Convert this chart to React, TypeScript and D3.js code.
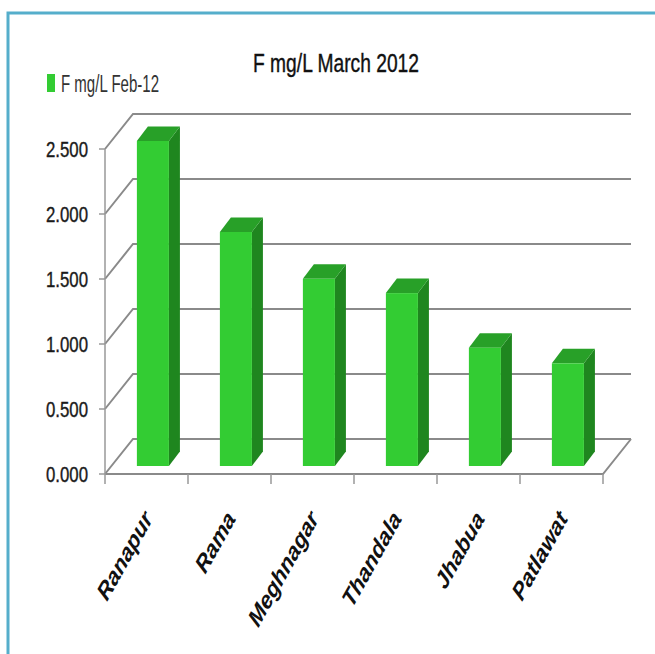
import React, { useEffect, useRef } from 'react';
import * as d3 from 'd3';

const categories = ['Ranapur', 'Rama', 'Meghnagar', 'Thandala', 'Jhabua', 'Patlawat'];
const values = [2.5, 1.8, 1.44, 1.33, 0.91, 0.79];
const yTicks = [0, 0.5, 1.0, 1.5, 2.0, 2.5];
const seriesName = 'F mg/L Feb-12';
const title = 'F mg/L March 2012';

export default function App() {
  const svgRef = useRef<SVGSVGElement | null>(null);

  function draw() {
    const svg = d3.select(svgRef.current);
    svg.selectAll('*').remove();

    const font = '"Liberation Sans", Arial, sans-serif';
    const left = 105, right = 603, base = 474;
    const depth = [28, -35]; // floor / wall depth
    const barShift = [6.4, -8]; // bar front sits a bit inside
    const barDepth = [11, -14.5];

    const x = d3.scaleBand().domain(categories).range([left, right])
      .paddingInner(0.614).paddingOuter(0.307);
    const y = d3.scaleLinear().domain([0, 2.5]).range([base, 149]);

    // frame
    svg.append('rect')
      .attr('x', 8).attr('y', 13).attr('width', 700).attr('height', 700)
      .attr('fill', 'none').attr('stroke', '#55aecb').attr('stroke-width', 3);

    // title
    svg.append('text')
      .attr('x', 253).attr('y', 72)
      .attr('textLength', 166).attr('lengthAdjust', 'spacingAndGlyphs')
      .attr('font-family', font).attr('font-size', 26).attr('fill', '#111')
      .attr('stroke', '#111').attr('stroke-width', 0.4)
      .text(title);

    // legend
    svg.append('rect')
      .attr('x', 47).attr('y', 74).attr('width', 8).attr('height', 18)
      .attr('fill', '#33cc33');
    svg.append('text')
      .attr('x', 61).attr('y', 92)
      .attr('textLength', 98).attr('lengthAdjust', 'spacingAndGlyphs')
      .attr('font-family', font).attr('font-size', 23).attr('fill', '#333')
      .text(seriesName);

    // walls and gridlines
    const grid = svg.append('g').attr('stroke', '#8a8a8a').attr('stroke-width', 2).attr('fill', 'none');
    yTicks.forEach(t => {
      const yf = y(t);
      grid.append('path')
        .attr('d', d3.line()([[left, yf], [left + depth[0], yf + depth[1]], [right + depth[0], yf + depth[1]]]));
    });
    grid.append('path')
      .attr('d', d3.line()([[left, base], [right, base], [right + depth[0], base + depth[1]]]));

    // y axis
    const axis = svg.append('g').attr('stroke', '#999').attr('stroke-width', 1.5);
    axis.append('line').attr('x1', left).attr('x2', left).attr('y1', y(2.5)).attr('y2', base);
    yTicks.forEach(t => {
      axis.append('line').attr('x1', left - 6).attr('x2', left).attr('y1', y(t)).attr('y2', y(t));
    });
    d3.range(categories.length + 1).forEach(i => {
      const xx = left + i * x.step();
      axis.append('line').attr('x1', xx).attr('x2', xx).attr('y1', base).attr('y2', base + 10);
    });

    svg.append('g').selectAll('text').data(yTicks).join('text')
      .attr('x', 46).attr('y', d => y(d) + 8)
      .attr('textLength', 42).attr('lengthAdjust', 'spacingAndGlyphs')
      .attr('font-family', font).attr('font-size', 22).attr('fill', '#1a1a1a')
      .attr('stroke', '#1a1a1a').attr('stroke-width', 0.4)
      .text(d => d3.format('.3f')(d));

    // bars
    const bars = svg.append('g').selectAll('g').data(categories).join('g');
    bars.each(function (c, i) {
      const g = d3.select(this);
      const x0 = (x(c) as number) + barShift[0];
      const x1 = x0 + x.bandwidth();
      const yTop = y(values[i]) + barShift[1];
      const yBot = y(0) + barShift[1];
      const [dx, dy] = barDepth;
      g.append('path')
        .attr('d', d3.line()([[x1, yTop], [x1 + dx, yTop + dy], [x1 + dx, yBot + dy], [x1, yBot]]) + 'Z')
        .attr('fill', '#1f861f');
      g.append('path')
        .attr('d', d3.line()([[x0, yTop], [x0 + dx, yTop + dy], [x1 + dx, yTop + dy], [x1, yTop]]) + 'Z')
        .attr('fill', '#28a028');
      g.append('rect')
        .attr('x', x0).attr('y', yTop).attr('width', x1 - x0).attr('height', yBot - yTop)
        .attr('fill', '#33cc33');
    });

    // category labels (squeezed horizontally like the source image)
    svg.append('g').selectAll('text').data(categories).join('text')
      .attr('transform', d => `translate(${(x(d) as number) + x.bandwidth() / 2 + 7},519) scale(0.8,1) rotate(-55)`)
      .attr('text-anchor', 'end')
      .attr('font-family', font).attr('font-size', 25)
      .attr('font-weight', 'bold').attr('font-style', 'italic').attr('fill', '#111')
      .text(d => d);
  }

  useEffect(() => {
    draw();
    // eslint-disable-next-line
  }, []);

  return (
    <svg
      ref={svgRef}
      width={655}
      height={654}
      style={{ position: 'absolute', left: 0, top: 0, background: '#fff', display: 'block' }}
    ></svg>
  );
}
